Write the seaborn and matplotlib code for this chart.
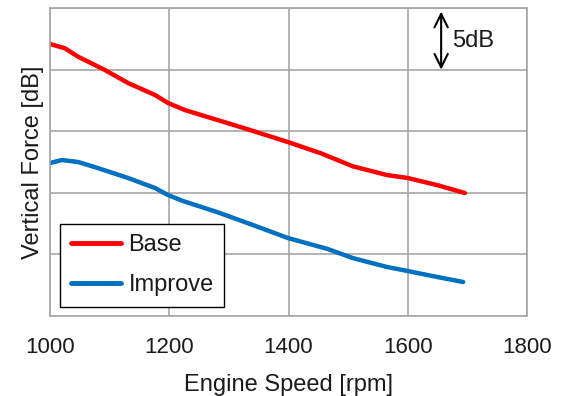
import matplotlib
matplotlib.use("Agg")
import matplotlib.pyplot as plt
import seaborn as sns
import pandas as pd

# Engine speed sweep [rpm] and vertical force levels [dB] for each configuration
base_rpm = [1000, 1025, 1047, 1092, 1131, 1176, 1198, 1226, 1297, 1330, 1399,
            1453, 1508, 1565, 1600, 1649, 1696]
base_db = [22.08, 21.73, 21.05, 19.97, 18.91, 17.94, 17.29, 16.72, 15.67, 15.18,
           14.12, 13.23, 12.15, 11.44, 11.20, 10.63, 9.98]

improve_rpm = [1000, 1020, 1047, 1075, 1131, 1176, 1198, 1222, 1280, 1340, 1399,
               1465, 1508, 1565, 1600, 1649, 1693]
improve_db = [12.42, 12.66, 12.50, 12.09, 11.20, 10.39, 9.82, 9.35, 8.44, 7.39,
              6.33, 5.45, 4.70, 3.98, 3.65, 3.17, 2.76]

series_names = ["Base", "Improve"]
series_colors = {"Base": "#FF0000", "Improve": "#0070C0"}

x_ticks = [1000, 1200, 1400, 1600, 1800]
y_grid = [0, 5, 10, 15, 20, 25]

df = pd.concat([
    pd.DataFrame({"rpm": base_rpm, "db": base_db, "series": "Base"}),
    pd.DataFrame({"rpm": improve_rpm, "db": improve_db, "series": "Improve"}),
], ignore_index=True)

sns.set_theme(style="white")
plt.rcParams["font.family"] = ["Liberation Sans", "DejaVu Sans"]

fig = plt.figure(figsize=(5.63, 3.96), dpi=100)
ax = fig.add_axes([50 / 563, 80 / 396, 477 / 563, 308 / 396])

sns.lineplot(data=df, x="rpm", y="db", hue="series", hue_order=series_names,
             palette=series_colors, linewidth=3.2, ax=ax, legend=True)
for ln in ax.get_lines():
    ln.set_solid_joinstyle("round")
    ln.set_solid_capstyle("round")

text_color = "#1a1a1a"
grid_color = "#A6A6A6"
ax.set_xlim(1000, 1800)
ax.set_ylim(0, 25)
ax.set_xticks(x_ticks)
ax.set_xticklabels([str(t) for t in x_ticks], fontsize=16, color=text_color)
ax.set_yticks(y_grid)
ax.set_yticklabels([])
ax.grid(True, color=grid_color, linewidth=1.2)
ax.set_axisbelow(True)
for side in ax.spines.values():
    side.set_color(grid_color)
    side.set_linewidth(1.2)
ax.tick_params(axis="x", which="major", direction="out", length=5,
               color=grid_color, width=1.2, pad=10)
ax.tick_params(axis="y", length=0)

ax.set_xlabel("Engine Speed [rpm]", fontsize=17, color=text_color, labelpad=12)
ax.set_ylabel("Vertical Force [dB]", fontsize=17, color=text_color, labelpad=1)

# 5 dB scale bar in the upper right
ax.annotate("", xy=(1656, 24.7), xytext=(1656, 20.0),
            arrowprops=dict(arrowstyle="<->", color="black", lw=1.5,
                            mutation_scale=24, shrinkA=0, shrinkB=0))
ax.text(1674, 22.3, "5dB", fontsize=17, color=text_color, va="center", ha="left")

leg = ax.legend(loc="lower left", bbox_to_anchor=(0.021, 0.03), fontsize=17,
                frameon=True, fancybox=False, handlelength=2.15, handletextpad=0.3,
                labelspacing=0.75, borderpad=0.45, borderaxespad=0)
leg.get_frame().set_edgecolor("black")
leg.get_frame().set_linewidth(1.0)
leg.get_frame().set_alpha(1)
for line in leg.get_lines():
    line.set_linewidth(3.5)
for t in leg.get_texts():
    t.set_color(text_color)

fig.savefig("out.png", dpi=100)
